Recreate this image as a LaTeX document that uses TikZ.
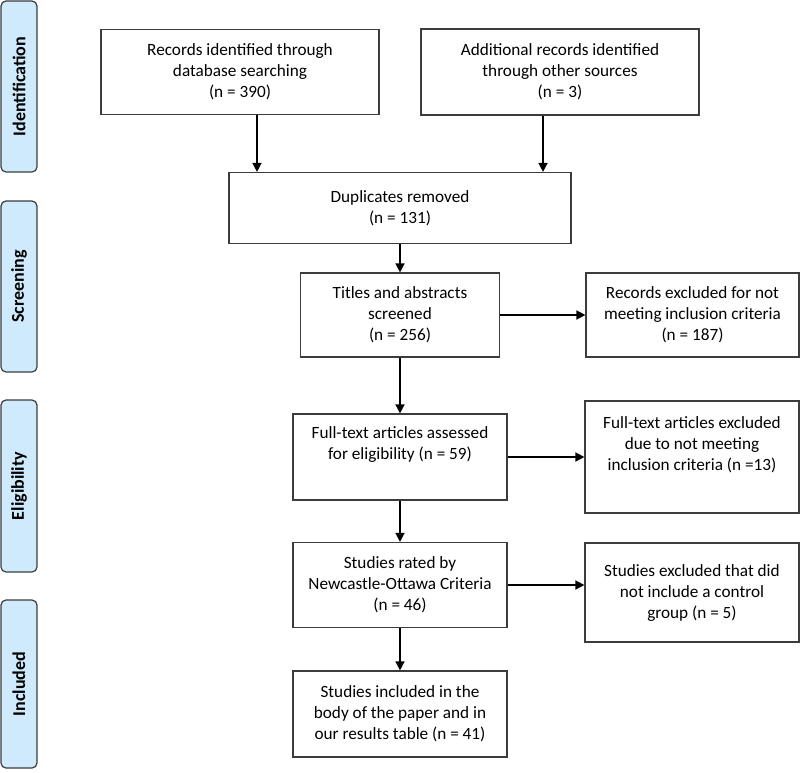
\documentclass[tikz,border=0pt]{standalone}
\usepackage{fontspec}
\setmainfont{Carlito}
\usetikzlibrary{arrows.meta}
\definecolor{phaseblue}{RGB}{206,234,252}
\definecolor{boxline}{RGB}{60,60,60}
\begin{document}
\begin{tikzpicture}
[x=1pt,y=-1pt,
  boxdecorate/.style={shape=rectangle,draw=boxline,line width=1.2pt,align=center,
    inner sep=2pt,font=\fontsize{17.2}{21}\selectfont},
  phasedecorate/.style={shape=rectangle,rounded corners=5pt,draw=boxline,fill=phaseblue,
    line width=1.2pt,rotate=90,minimum height=36pt,font=\bfseries\fontsize{18}{20}\selectfont},
  arrowdecorate/.style={-{Triangle[length=9pt,width=9pt]},line width=1.5pt}]
\useasboundingbox (0,0) rectangle (800,772);
%% phase labels
\foreach \nodename/\y/\h/\nodelabel in {
  ident/86.5/171/Identification, screen/286.5/171/Screening,
  elig/486/172/Eligibility, incl/684/168/Included} {
  \node (\nodename) at (19,\y) [phasedecorate,minimum width=\h pt] {\nodelabel};
}
%% boxes
\foreach \nodename/\x/\y/\w/\h/\nodelabel in {
  records/240/72/278/85/{Records identified through\\database searching\\(n = 390)},
  additional/560/72/278/86/{Additional records identified\\through other sources\\(n = 3)},
  duplicates/400/208/342/71/{Duplicates removed\\(n = 131)},
  titles/400/315/199/84/{Titles and abstracts\\screened\\(n = 256)},
  titlesout/692.5/315/213/84/{Records excluded for not\\meeting inclusion criteria\\(n = 187)},
  fulltext/400/457/214/86/{Full-text articles assessed\\for eligibility (n = 59)\\\strut},
  fulltextout/692/457/214/112/{Full-text articles excluded\\due to not meeting\\inclusion criteria (n =13)\\\strut},
  rated/400/585/214/85/{Studies rated by\\Newcastle-Ottawa Criteria\\(n = 46)},
  ratedout/692/592.5/214/99/{Studies excluded that did\\not include a control\\group (n = 5)},
  included/400/714/214/86/{Studies included in the\\body of the paper and in\\our results table (n = 41)}} {
  \node (\nodename) at (\x,\y) [boxdecorate,minimum width=\w pt,minimum height=\h pt] {\nodelabel};
}
%% arrows
\draw[arrowdecorate] ([xshift=17pt]records.south) -- ([xshift=17pt]records.south |- duplicates.north);
\draw[arrowdecorate] ([xshift=-17pt]additional.south) -- ([xshift=-17pt]additional.south |- duplicates.north);
\foreach \startnode/\endnode in {duplicates/titles, titles/fulltext, fulltext/rated, rated/included} {
  \draw[arrowdecorate] (\startnode.south) -- (\startnode.south |- \endnode.north);
}
\foreach \startnode/\endnode in {titles/titlesout, fulltext/fulltextout, rated/ratedout} {
  \draw[arrowdecorate] (\startnode.east) -- (\startnode.east -| \endnode.west);
}
\end{tikzpicture}
\end{document}
